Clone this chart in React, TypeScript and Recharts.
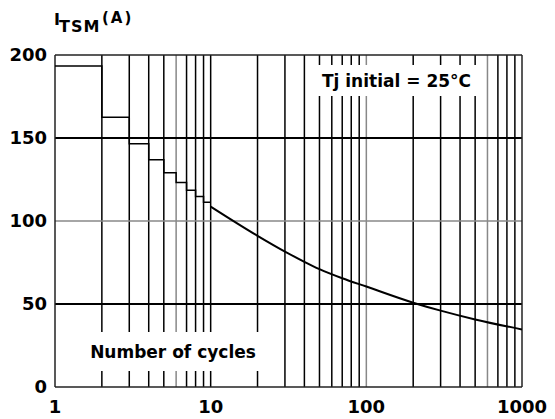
import React from 'react'
import { LineChart, Line, XAxis, YAxis, ReferenceLine } from 'recharts'

// Surge current staircase (one step per cycle count) and the continuous curve
const stepCycles = [1, 2, 3, 4, 5, 6, 7, 8, 9, 10]
const stepCurrent = [193.3, 162.5, 146.6, 136.9, 129, 123.2, 118.5, 114.7, 111.3, 111.3]
const curveCycles = [10, 20, 30, 40, 50, 70, 100, 200, 300, 500, 1000]
const curveCurrent = [108.7, 91.1, 81.6, 75.4, 71, 65.5, 60.5, 50.8, 46, 40.7, 34.7]

const xTicks = [1, 10, 100, 1000]
const yTicks = [0, 50, 100, 150, 200]
const gridX = [2, 3, 4, 5, 6, 7, 8, 9, 10, 20, 30, 40, 50, 60, 70, 80, 90, 100, 200, 300, 400, 500, 600, 700, 800, 900]
const grayGridX = [6, 100, 600]

const stepData = stepCycles.map((x, i) => ({ x, y: stepCurrent[i] }))
const curveData = curveCycles.map((x, i) => ({ x, y: curveCurrent[i] }))

const font = '"DejaVu Sans", "Liberation Sans", sans-serif'

const XTick = ({ x, y, payload }: any) => (
  <text x={x} y={y} dy="0.71em" textAnchor="middle" fontFamily={font} fontSize={18} fontWeight={700} fill="#000">
    {payload.value}
  </text>
)

const YTick = ({ x, y, payload }: any) => (
  <text x={x} y={y} dy="0.355em" textAnchor="end" fontFamily={font} fontSize={18} fontWeight={700} fill="#000">
    {payload.value}
  </text>
)

const textBox = (left: number, top: number, width: number, height: number): React.CSSProperties => ({
  position: 'absolute',
  left,
  top,
  width,
  height,
  background: '#fff',
  display: 'flex',
  alignItems: 'center',
  justifyContent: 'center',
  fontFamily: font,
  fontSize: 17,
  fontWeight: 'bold',
  color: '#000',
  whiteSpace: 'nowrap',
})

export default function App() {
  return (
    <div style={{ position: 'absolute', left: 0, top: 0, width: 555, height: 419, background: '#fff' }}>
      <LineChart width={555} height={419} margin={{ top: 55, right: 33, left: 0, bottom: 0 }}>
        <XAxis
          dataKey="x"
          type="number"
          scale="log"
          domain={[1, 1000]}
          ticks={xTicks}
          allowDataOverflow
          axisLine={false}
          tickLine={false}
          tickMargin={7}
          height={32}
          tick={<XTick />}
        />
        <YAxis
          type="number"
          domain={[0, 200]}
          ticks={yTicks}
          axisLine={false}
          tickLine={false}
          width={55}
          tick={<YTick />}
        />
        {gridX.map((v) => (
          <ReferenceLine
            key={v}
            x={v}
            stroke={grayGridX.includes(v) ? '#888' : '#000'}
            strokeWidth={1.5}
          />
        ))}
        <ReferenceLine y={50} stroke="#000" strokeWidth={2} />
        <ReferenceLine y={100} stroke="#888" strokeWidth={1.5} />
        <ReferenceLine y={150} stroke="#000" strokeWidth={2} />
        {/* plot frame */}
        <ReferenceLine y={0} stroke="#222" strokeWidth={1.5} />
        <ReferenceLine y={200} stroke="#222" strokeWidth={1.5} />
        <ReferenceLine x={1} stroke="#222" strokeWidth={1.5} />
        <ReferenceLine x={1000} stroke="#222" strokeWidth={1.5} />
        <Line
          data={stepData}
          dataKey="y"
          type="stepAfter"
          stroke="#000"
          strokeWidth={1.5}
          dot={false}
          isAnimationActive={false}
        />
        <Line
          data={curveData}
          dataKey="y"
          type="monotone"
          stroke="#000"
          strokeWidth={2}
          dot={false}
          isAnimationActive={false}
        />
      </LineChart>

      <div style={textBox(310, 65, 173, 31)}>Tj initial = 25°C</div>
      <div style={textBox(78, 332, 190, 39)}>Number of cycles</div>

      {/* axis title: I_TSM (A) */}
      <div
        style={{
          position: 'absolute',
          left: 54,
          top: 10,
          lineHeight: '20px',
          fontFamily: font,
          fontSize: 16,
          fontWeight: 'bold',
          color: '#000',
        }}
      >
        I
      </div>
      <div
        style={{
          position: 'absolute',
          left: 59,
          top: 17,
          lineHeight: '20px',
          fontFamily: font,
          fontSize: 16,
          fontWeight: 'bold',
          letterSpacing: 1,
          color: '#000',
        }}
      >
        TSM
      </div>
      <div
        style={{
          position: 'absolute',
          left: 102,
          top: 8,
          lineHeight: '20px',
          fontFamily: font,
          fontSize: 15,
          fontWeight: 'bold',
          letterSpacing: 2,
          color: '#000',
        }}
      >
        (A)
      </div>
    </div>
  )
}
